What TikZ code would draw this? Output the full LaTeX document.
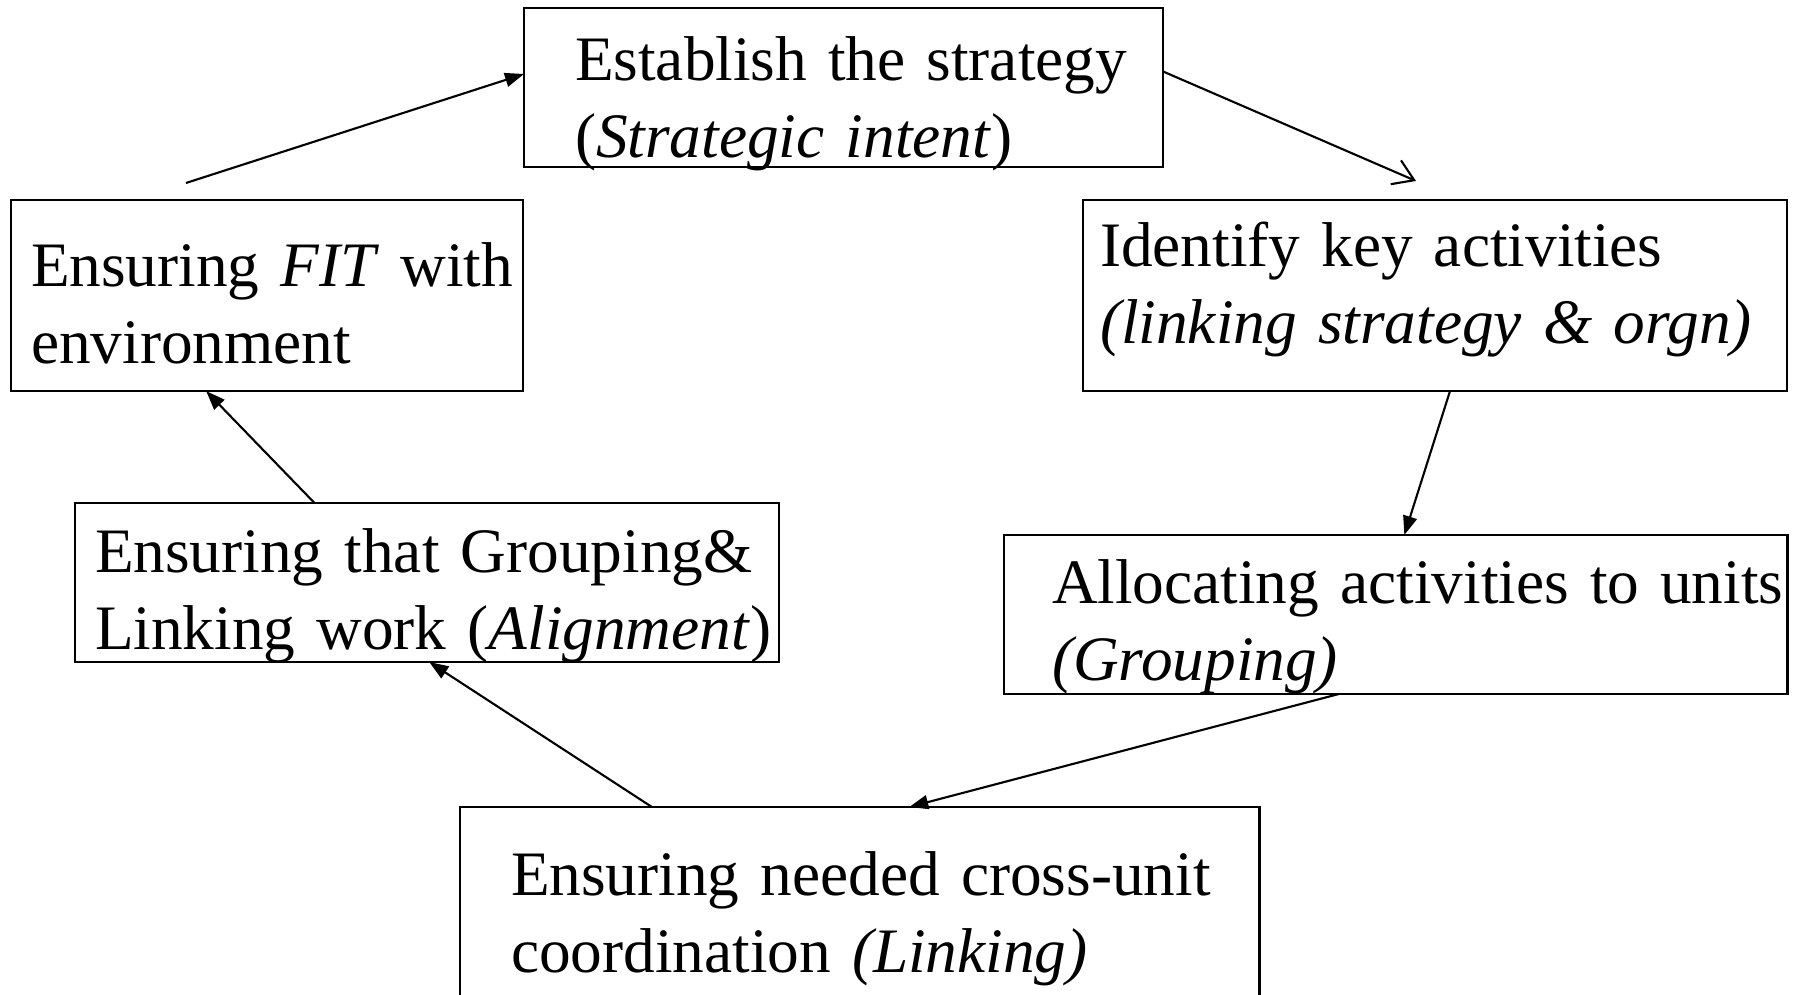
\documentclass[tikz,border=0pt]{standalone}
\usepackage{fontspec}
\setmainfont{Liberation Serif}
\usetikzlibrary{arrows.meta,calc}

\newcommand{\stagefont}{\fontsize{18}{22}\selectfont\spaceskip=3.6pt plus 1pt minus 0.5pt\relax}

\tikzset{
  stage/.style={draw, line width=0.6pt, anchor=north west, align=left,
    inner ysep=0pt, outer sep=0pt, font=\stagefont},
  flow/.style={line width=0.6pt, -{Triangle[length=1.9mm,width=1.4mm]}},
  openflow/.style={line width=0.6pt, -{Straight Barb[length=2mm,width=2.6mm]}},
}

\begin{document}
\begin{tikzpicture}[x=0.01cm,y=-0.01cm]
\path[use as bounding box] (0,0) rectangle (1793,995);
\clip (0,0) rectangle (1793,995);

% every line is boxed so it never wraps inside the boxes
\node[stage, text width=5.37cm, inner xsep=0.51cm, text height=0.72cm, text depth=0.87cm]
  (est) at (524,8) {\mbox{Establish the strategy}\\\mbox{(\textit{Strategic intent})}};
\node[stage, text width=4.72cm, inner xsep=0.20cm, text height=0.86cm, text depth=1.05cm]
  (fit) at (11,200) {\mbox{Ensuring \textit{FIT} with}\\environment};
\node[stage, text width=6.70cm, inner xsep=0.17cm, text height=0.66cm, text depth=1.25cm]
  (iden) at (1083,200) {\mbox{Identify key activities}\\\mbox{\textit{(linking strategy \& orgn)}}};
\node[stage, text width=6.64cm, inner xsep=0.20cm, text height=0.69cm, text depth=0.90cm]
  (align) at (75,503) {\mbox{Ensuring that Grouping\&}\\\mbox{Linking work (\textit{Alignment})}};
\node[stage, text width=6.87cm, inner xsep=0.48cm, text height=0.68cm, text depth=0.91cm]
  (alloc) at (1004,535) {\mbox{Allocating activities to units}\\\textit{(Grouping)}};
\node[stage, text width=6.97cm, inner xsep=0.51cm, text height=0.88cm, text depth=2.00cm]
  (coord) at (460,807) {\mbox{Ensuring needed cross-unit}\\\mbox{coordination \textit{(Linking)}}};

% loose ends above the boxes
\coordinate (fitout) at (186,183);
\coordinate (idenin) at (1416,181);

\draw[flow] (fitout) -- ($(est.north west)!0.415!(est.south west)$);
\draw[openflow] ($(est.north east)!0.40!(est.south east)$) -- (idenin);
\draw[flow] ($(iden.south west)!0.521!(iden.south east)$) -- ($(alloc.north west)!0.511!(alloc.north east)$);
\draw[flow] ($(alloc.south west)!0.427!(alloc.south east)$) -- ($(coord.north west)!0.562!(coord.north east)$);
\draw[flow] ($(coord.north west)!0.24!(coord.north east)$) -- ($(align.south west)!0.503!(align.south east)$);
\draw[flow] ($(align.north west)!0.34!(align.north east)$) -- ($(fit.south west)!0.381!(fit.south east)$);
\end{tikzpicture}
\end{document}
